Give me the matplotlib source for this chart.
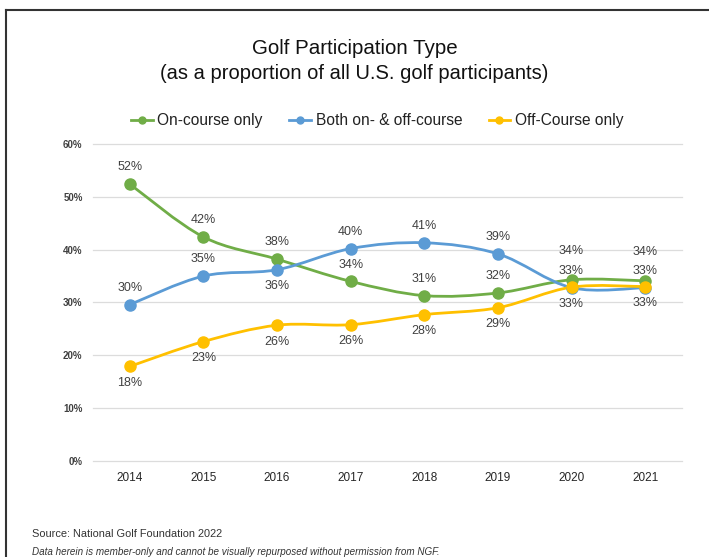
import numpy as np
import matplotlib.pyplot as plt
from matplotlib.path import Path
from matplotlib.patches import PathPatch
from matplotlib.lines import Line2D

plt.rcParams['font.family'] = ['Liberation Sans', 'DejaVu Sans']

years = ['2014', '2015', '2016', '2017', '2018', '2019', '2020', '2021']
on_course = [52.4, 42.4, 38.2, 34.0, 31.3, 31.8, 34.3, 34.1]
both = [29.6, 35.0, 36.2, 40.2, 41.3, 39.2, 32.8, 32.8]
off_course = [17.9, 22.6, 25.7, 25.8, 27.7, 29.0, 32.9, 33.0]
series_names = ['On-course only', 'Both on- & off-course', 'Off-Course only']
y_ticks = [0, 10, 20, 30, 40, 50, 60]

colors = ['#70AD47', '#5B9BD5', '#FFC000']
# label offsets in points (+ above the dot, - below)
label_offsets = [
    [12, 12, 12, 12, 12, 12, 21, 21],
    [12, 12, -12, 12, 12, 12, 12, 12],
    [-12, -12, -12, -12, -12, -12, -12, -12],
]


def smooth_path(xs, ys):
    # Excel-like smoothed line: Catmull-Rom segments drawn as cubic Beziers
    pts = np.column_stack([xs, ys]).astype(float)
    ext = np.vstack([pts[0], pts, pts[-1]])
    verts = [pts[0]]
    codes = [Path.MOVETO]
    for i in range(len(pts) - 1):
        p0, p1, p2, p3 = ext[i], ext[i + 1], ext[i + 2], ext[i + 3]
        verts += [p1 + (p2 - p0) / 6, p2 - (p3 - p1) / 6, p2]
        codes += [Path.CURVE4] * 3
    return Path(verts, codes)


fig = plt.figure(figsize=(7.09, 5.57), dpi=100)
ax = fig.add_axes([0.1312, 0.1724, 0.8307, 0.5691])

x = np.arange(len(years))
for vals, col, offs in zip([on_course, both, off_course], colors, label_offsets):
    ax.add_patch(PathPatch(smooth_path(x, vals), facecolor='none', edgecolor=col,
                           lw=2.0, zorder=3))
    ax.plot(x, vals, 'o', color=col, markersize=8, zorder=4)
    for xi, v, o in zip(x, vals, offs):
        ax.annotate(f'{v:.0f}%', (xi, v), xytext=(0, o), textcoords='offset points',
                    ha='center', va='center', fontsize=9, color='#404040')

ax.set_xlim(-0.5, len(years) - 0.5)
ax.set_ylim(0, 60)
ax.set_xticks(x)
ax.set_xticklabels(years, fontsize=8.5, color='#262626')
ax.set_yticks(y_ticks)
ax.set_yticklabels([f'{t}%' for t in y_ticks], fontsize=7, color='#404040',
                   fontweight='bold')
ax.tick_params(axis='x', length=0, pad=8)
ax.tick_params(axis='y', length=0, pad=7.5)
for gl in ax.get_ygridlines():
    gl.set_clip_on(False)
ax.grid(axis='y', color='#dcdcdc', lw=0.9)
ax.set_axisbelow(True)
for s in ax.spines.values():
    s.set_visible(False)

fig.text(0.5, 0.913, 'Golf Participation Type', ha='center', va='center',
         fontsize=14.8, color='#111111')
fig.text(0.5, 0.868, '(as a proportion of all U.S. golf participants)', ha='center',
         va='center', fontsize=14.5, color='#111111')

handles = [Line2D([], [], color=c, marker='o', markersize=5, lw=2) for c in colors]
fig.legend(handles, series_names, loc='center', bbox_to_anchor=(0.532, 0.783), ncol=3,
           frameon=False, fontsize=11.2, handlelength=1.4, handletextpad=0.3,
           columnspacing=1.7, labelcolor='#222222')

fig.text(0.045, 0.041, 'Source: National Golf Foundation 2022', fontsize=7.9,
         color='#333333', va='center')
fig.text(0.045, 0.009, 'Data herein is member-only and cannot be visually repurposed '
         'without permission from NGF.', fontsize=7.1, style='italic', color='#333333',
         va='center')

# frame edge of the original slide (top and left only)
fig.add_artist(Line2D([0.009, 1.0], [0.982, 0.982], color='#333333', lw=1.5))
fig.add_artist(Line2D([0.009, 0.009], [0.0, 0.982], color='#333333', lw=1.5))

fig.savefig('out.png', dpi=100)
